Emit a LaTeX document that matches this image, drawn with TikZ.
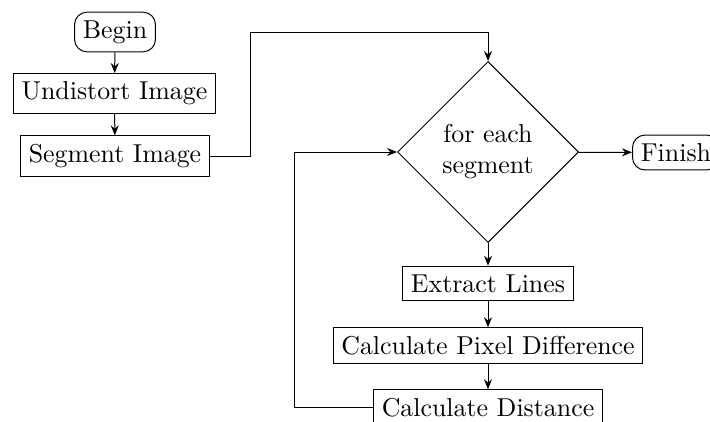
\documentclass[tikz,border=0pt]{standalone}
\usetikzlibrary{shapes.geometric,arrows.meta}
\begin{document}
\begin{tikzpicture}[x=0.4pt,y=-0.4pt,
  >={Stealth[length=4pt,width=3.2pt]},
  every path/.style={line width=0.4pt},
  every node/.style={font=\fontsize{10.35pt}{12.4pt}\selectfont},
  proc/.style={draw, rectangle, inner sep=0.333em},
  term/.style={draw, rectangle, rounded corners=5pt, inner sep=0.333em},
  decide/.style={draw, diamond, aspect=1, minimum size=72.4pt, inner sep=0pt, align=center}]
\useasboundingbox (0,0) rectangle (710,421);
\node[term] (begin) at (115,32) {Begin};
\node[proc] (undist) at (114.5,93.5) {Undistort Image};
\node[proc] (seg) at (115,156) {Segment Image};
\node[decide] (dec) at (488,152) {for each\\segment};
\node[term, anchor=west] (finish) at (632,152.5) {Finish};
\node[proc] (extract) at (488,283.5) {Extract Lines};
\node[proc] (pixel) at (488,345.5) {Calculate Pixel Difference};
\node[proc] (dist) at (488,407.5) {Calculate Distance};
\coordinate (c1) at (250,32);
\coordinate (c2) at (294,407.5);
\draw[->] (begin) -- (undist);
\draw[->] (undist) -- (seg);
\draw[->] (seg.east) -| (c1) -| (dec.north);
\draw[->] (dec) -- (finish);
\draw[->] (dec) -- (extract);
\draw[->] (extract) -- (pixel);
\draw[->] (pixel) -- (dist);
\draw[->] (dist.west) -- (c2) |- (dec.west);
\end{tikzpicture}
\end{document}
